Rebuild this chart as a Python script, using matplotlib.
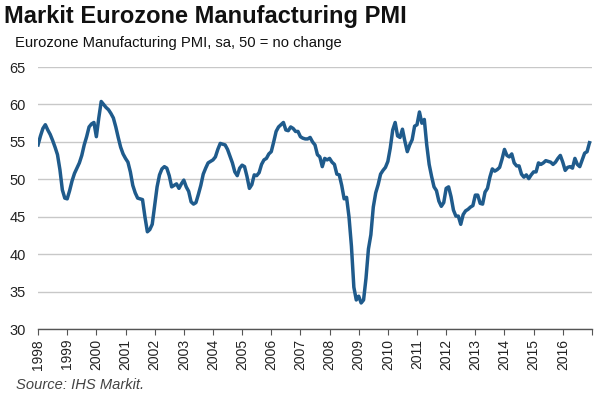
import matplotlib
matplotlib.use("Agg")
import matplotlib.pyplot as plt
import numpy as np

plt.rcParams['font.family'] = ['Liberation Sans', 'DejaVu Sans']

years = list(range(1998, 2017))
pmi_1998 = [54.6, 55.8, 56.8, 57.3, 56.6, 56.0, 55.2, 54.3, 53.3, 51.3, 48.6, 47.5]
pmi_1999 = [47.4, 48.5, 49.8, 50.8, 51.5, 52.2, 53.2, 54.6, 55.7, 57.0, 57.4, 57.6]
pmi_2000 = [55.7, 58.2, 60.4, 60.0, 59.6, 59.3, 58.8, 58.2, 57.0, 55.6, 54.3, 53.4]
pmi_2001 = [52.8, 52.3, 51.0, 49.2, 48.2, 47.5, 47.4, 47.3, 45.0, 43.0, 43.3, 44.0]
pmi_2002 = [46.5, 49.0, 50.6, 51.4, 51.7, 51.5, 50.5, 49.0, 49.2, 49.4, 48.8, 49.4]
pmi_2003 = [49.9, 49.0, 48.4, 47.0, 46.7, 46.9, 48.0, 49.2, 50.7, 51.5, 52.2, 52.4]
pmi_2004 = [52.6, 53.0, 54.0, 54.8, 54.7, 54.6, 54.0, 53.1, 52.2, 51.0, 50.5, 51.5]
pmi_2005 = [51.9, 51.7, 50.4, 48.8, 49.3, 50.6, 50.5, 50.9, 52.0, 52.6, 52.8, 53.4]
pmi_2006 = [53.7, 55.0, 56.4, 57.0, 57.3, 57.6, 56.6, 56.5, 57.0, 56.8, 56.4, 56.4]
pmi_2007 = [55.7, 55.5, 55.4, 55.4, 55.6, 55.0, 54.6, 53.3, 53.0, 51.7, 52.8, 52.6]
pmi_2008 = [52.8, 52.3, 52.0, 50.7, 50.6, 49.2, 47.4, 47.6, 45.0, 41.1, 35.6, 33.9]
pmi_2009 = [34.4, 33.5, 33.9, 36.8, 40.7, 42.6, 46.3, 48.2, 49.3, 50.7, 51.2, 51.6]
pmi_2010 = [52.4, 54.2, 56.6, 57.6, 55.8, 55.6, 56.7, 55.1, 53.7, 54.6, 55.3, 57.1]
pmi_2011 = [57.3, 59.0, 57.5, 58.0, 54.6, 52.0, 50.4, 49.0, 48.5, 47.1, 46.4, 46.9]
pmi_2012 = [48.8, 49.0, 47.7, 45.9, 45.1, 45.1, 44.0, 45.3, 45.8, 46.0, 46.3, 46.5]
pmi_2013 = [47.9, 47.9, 46.8, 46.7, 48.3, 48.8, 50.3, 51.4, 51.1, 51.3, 51.6, 52.7]
pmi_2014 = [54.0, 53.2, 53.0, 53.4, 52.2, 51.8, 51.8, 50.7, 50.3, 50.6, 50.1, 50.6]
pmi_2015 = [51.0, 51.0, 52.2, 52.0, 52.2, 52.5, 52.4, 52.3, 52.0, 52.3, 52.8, 53.2]
pmi_2016 = [52.3, 51.2, 51.6, 51.7, 51.5, 52.8, 52.0, 51.7, 52.6, 53.5, 53.7, 54.9]

yearly = [pmi_1998, pmi_1999, pmi_2000, pmi_2001, pmi_2002, pmi_2003, pmi_2004,
          pmi_2005, pmi_2006, pmi_2007, pmi_2008, pmi_2009, pmi_2010, pmi_2011,
          pmi_2012, pmi_2013, pmi_2014, pmi_2015, pmi_2016]
values = np.concatenate(yearly)
dates = np.concatenate([[y + m / 12 for m in range(12)] for y in years])

y_ticks = [30, 35, 40, 45, 50, 55, 60, 65]
x_tick_labels = [str(y) for y in years]

fig = plt.figure(figsize=(6.04, 3.99), dpi=100)
ax = fig.add_axes([0.063, 0.175, 0.917, 0.657])

ax.plot(dates, values, color='#1f5b8c', lw=2.5, solid_joinstyle='round', zorder=3)

ax.set_xlim(1998, 2017)
ax.set_ylim(30, 65)
ax.set_yticks(y_ticks)
ax.set_yticklabels([str(v) for v in y_ticks], fontsize=10.5, color='#222222')
ax.set_xticks(list(range(1998, 2018)))
ax.set_xticklabels(x_tick_labels + [''], rotation=90, fontsize=10, color='#222222')
ax.grid(axis='y', color='#c8c8c8', lw=1)
ax.set_axisbelow(True)
for s in ['left', 'right', 'top']:
    ax.spines[s].set_visible(False)
ax.spines['bottom'].set_color('#555555')
ax.spines['bottom'].set_linewidth(1)
ax.tick_params(axis='y', length=0, pad=9)
ax.tick_params(axis='x', length=4, direction='out', color='#555555', pad=3)

fig.text(0.007, 0.942, 'Markit Eurozone Manufacturing PMI', fontsize=17,
         fontweight='bold', color='#111111', va='baseline')
fig.text(0.025, 0.883, 'Eurozone Manufacturing PMI, sa, 50 = no change',
         fontsize=10.6, color='#111111', va='baseline')
fig.text(0.026, 0.025, 'Source: IHS Markit.', fontsize=10.6, style='italic',
         color='#444444', va='baseline')

fig.savefig('out.png', dpi=100)
